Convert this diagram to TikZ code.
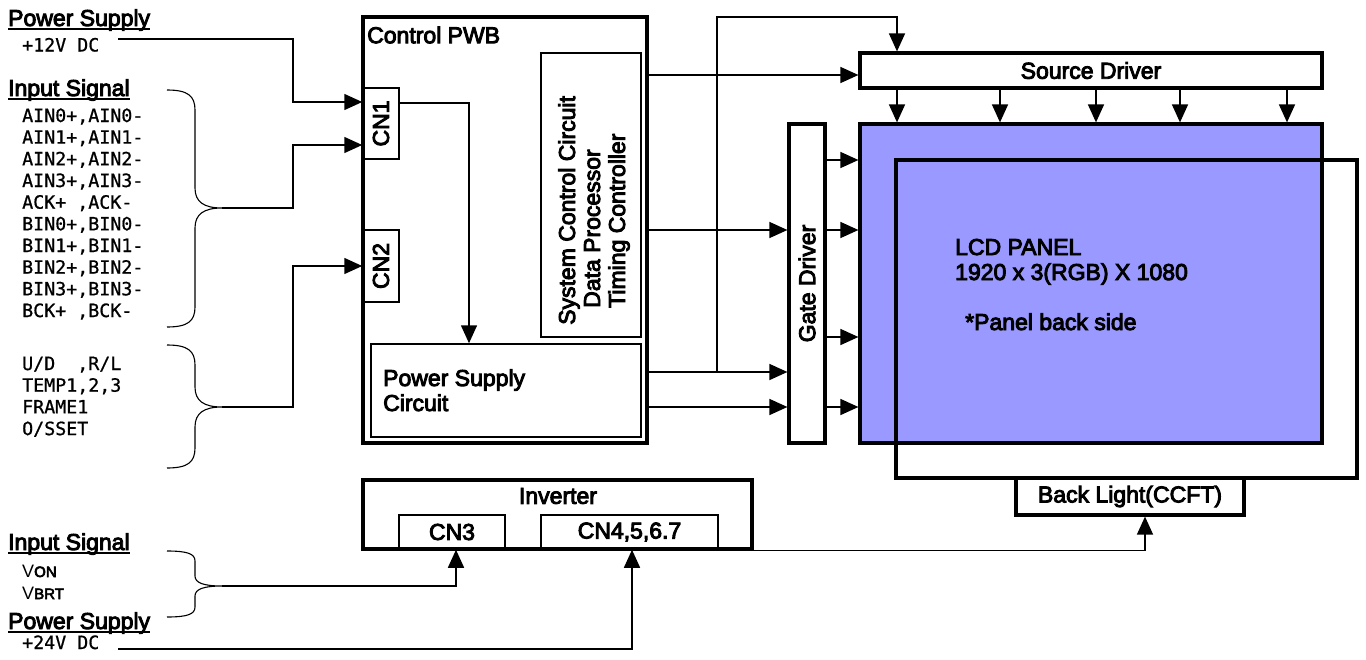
\documentclass[tikz,border=0pt]{standalone}
\usepackage{fontspec}
\setmainfont{Liberation Sans}[BoldFont={Liberation Sans}, BoldFeatures={FakeBold=4}]
\newfontfamily\plainf{Liberation Sans}[BoldFont={Liberation Sans}, BoldFeatures={FakeBold=4}]
\newfontfamily\monof{DejaVu Sans Mono}[BoldFont={DejaVu Sans Mono}, BoldFeatures={FakeBold=0.8}]
\usetikzlibrary{arrows.meta}
\definecolor{lcdfill}{RGB}{153,153,255}
\tikzset{
  thickbox/.style={draw, line width=3.2pt, inner sep=0pt},
  thinbox/.style={draw, line width=1.5pt, inner sep=0pt},
  conn/.style={line width=1.5pt, -{Triangle[length=18pt,width=16pt]}},
  lbl/.style={font=\fontsize{23}{25}\selectfont\bfseries, inner sep=0pt},
  mono/.style={font=\monof\fontsize{18.3}{21}\selectfont\bfseries, inner sep=0pt, anchor=base west},
  bracepath/.style={line width=1.1pt},
  uline/.style={line width=1.7pt},
}
\newcommand\mybrace[4]{%
  \draw[bracepath] (167,#1) .. controls (188,#1) and (195,#1+0.3*#4) .. (195,#1+#4)
    -- (195,#2-#4) .. controls (195,#2-0.3*#4) and (204,#2) .. (222,#2)
    .. controls (204,#2) and (195,#2+0.3*#4) .. (195,#2+#4)
    -- (195,#3-#4) .. controls (195,#3-0.3*#4) and (188,#3) .. (167,#3);}
\begin{document}
\begin{tikzpicture}[x=1pt,y=-1pt]
\useasboundingbox (0,0) rectangle (1366,659);

% ---------- left texts ----------
\node[lbl, anchor=base west] (h1) at (8,26) {Power Supply};
\draw[uline] ([yshift=-3pt]h1.base west) -- ([yshift=-3pt]h1.base east);
\node[mono] (v12t) at (22,51.5) {+12V DC};
\node[lbl, anchor=base west] (h2) at (8,96) {Input Signal};
\draw[uline] ([yshift=-3pt]h2.base west) -- ([yshift=-3pt]h2.base east);
\foreach \t [count=\i] in {{AIN0+,AIN0-},{AIN1+,AIN1-},{AIN2+,AIN2-},{AIN3+,AIN3-},{ACK+ ,ACK-},{BIN0+,BIN0-},{BIN1+,BIN1-},{BIN2+,BIN2-},{BIN3+,BIN3-},{BCK+ ,BCK-}}
  \node[mono] (sa\i) at (22,{122+21.67*(\i-1)}) {\t};
\foreach \t [count=\i] in {{U/D~~,R/L},{TEMP1,2,3},{FRAME1},{O/SSET}}
  \node[mono] (sb\i) at (22,{370+21.7*(\i-1)}) {\t};

\node[lbl, anchor=base west] (h3) at (8,550) {Input Signal};
\draw[uline] ([yshift=-3pt]h3.base west) -- ([yshift=-3pt]h3.base east);
\node[anchor=base west, inner sep=0pt, font=\plainf\fontsize{18}{20}\selectfont] (von) at (22,577) {V{\fontsize{15}{16}\selectfont\bfseries ON}};
\node[anchor=base west, inner sep=0pt, font=\plainf\fontsize{18}{20}\selectfont] (vbrt) at (22,599) {V{\fontsize{15}{16}\selectfont\bfseries BRT}};
\node[lbl, anchor=base west] (h4) at (8,629) {Power Supply};
\draw[uline] ([yshift=-3pt]h4.base west) -- ([yshift=-3pt]h4.base east);
\node[mono] (v24t) at (22,649) {+24V DC};

% braces
\mybrace{90}{208}{327}{20}
\mybrace{345}{407}{468}{20}
\mybrace{551}{586}{617}{10}
\coordinate (tipA) at (222,208);
\coordinate (tipB) at (222,407);
\coordinate (tipC) at (222,586);

% ---------- Control PWB ----------
\node[thickbox, minimum width=284pt, minimum height=426pt] (PWB) at (505,230) {};
\node[lbl, anchor=west] (PWBt) at (367,35) {Control PWB};
\node[thinbox, minimum width=36pt, minimum height=71pt] (CN1) at (381,123.5) {};
\node[lbl, rotate=90] (CN1t) at (CN1.center) {CN1};
\node[thinbox, minimum width=36pt, minimum height=72pt] (CN2) at (381,266) {};
\node[lbl, rotate=90] (CN2t) at (CN2.center) {CN2};
\node[thinbox, minimum width=270pt, minimum height=93pt] (PS) at (506,390.5) {};
\node[lbl, anchor=base west] (PSt1) at (383,386) {Power Supply};
\node[lbl, anchor=base west] (PSt2) at (383,411) {Circuit};
\node[thinbox, minimum width=100pt, minimum height=284pt] (SYS) at (591,195) {};
\node[lbl, rotate=90, anchor=base west] (SYSt1) at (575,325) {System Control Circuit};
\node[lbl, rotate=90, anchor=base west] (SYSt2) at (600,308) {Data Processor};
\node[lbl, rotate=90, anchor=base west] (SYSt3) at (625,308) {Timing Controller};

% ---------- panel side ----------
\node[thickbox, minimum width=462pt, minimum height=35pt] (SD) at (1091,70.5) {};
\node[lbl] (SDt) at (SD.center) {Source Driver};
\node[thickbox, minimum width=36pt, minimum height=319pt] (GD) at (807,283.5) {};
\node[lbl, rotate=90] (GDt) at (GD.center) {Gate Driver};
\node[thickbox, fill=lcdfill, minimum width=462pt, minimum height=319pt] (LCD) at (1091,283.5) {};
\node[thickbox, minimum width=461pt, minimum height=318pt] (BLF) at (1126.5,319) {};
\node[lbl, anchor=base west] (LCDt1) at (955,255) {LCD PANEL};
\node[lbl, anchor=base west] (LCDt2) at (955,280) {1920 x 3(RGB) X 1080};
\node[lbl, anchor=base west] (LCDt3) at (965,330) {*Panel back side};
\node[thickbox, fill=white, minimum width=228pt, minimum height=37pt] (BL) at (1130,496.5) {};
\node[lbl] (BLt) at (BL.center) {Back Light(CCFT)};

% ---------- inverter ----------
\node[thickbox, minimum width=389pt, minimum height=69pt] (INV) at (557.5,514.5) {};
\node[lbl] (INVt) at (558,496) {Inverter};
\node[thinbox, minimum width=106pt, minimum height=34pt] (CN3) at (452,532) {};
\node[lbl] (CN3t) at (CN3.center) {CN3};
\node[thinbox, minimum width=177pt, minimum height=34pt] (CN4) at (629.5,532) {};
\node[lbl] (CN4t) at (CN4.center) {CN4,5,6.7};

% ---------- connectors ----------
\coordinate (v12) at (118,39);
\coordinate (a1) at (293,102);
\draw[conn] (v12) -| (a1) -- (a1 -| CN1.west);
\coordinate (a2) at (293,145);
\draw[conn] (tipA) -| (a2) -- (a2 -| CN1.west);
\coordinate (a3) at (293,266);
\draw[conn] (tipB) -| (a3) -- (a3 -| CN2.west);
\coordinate (a4) at (469,103);
\draw[conn] (a4 -| CN1.east) -- (a4) -- (a4 |- PS.north);

\coordinate (o1) at (0,75);
\draw[conn] (o1 -| PWB.east) -- (o1 -| SD.west);
\coordinate (o2) at (0,230);
\draw[conn] (o2 -| PWB.east) -- (o2 -| GD.west);
\coordinate (o3) at (0,372);
\draw[conn] (o3 -| PWB.east) -- (o3 -| GD.west);
\coordinate (o4) at (0,407);
\draw[conn] (o4 -| PWB.east) -- (o4 -| GD.west);
\coordinate (j) at (717,372);
\coordinate (t) at (897,17);
\draw[conn] (j) |- (t) -- (t |- SD.north);

\foreach \x [count=\i] in {897,1000,1096,1180,1287} {
  \coordinate (sd\i) at (\x,0);
  \draw[conn] (sd\i |- SD.south) -- (sd\i |- LCD.north);
}
\foreach \y [count=\i] in {160,230,337,407} {
  \coordinate (g\i) at (0,\y);
  \draw[conn] (g\i -| GD.east) -- (g\i -| LCD.west);
}

\coordinate (blx) at (1145,0);
\draw[conn] (INV.south east) -| (blx |- BL.south);
\coordinate (c3) at (456,0);
\draw[conn] (tipC) -| (c3 |- CN3.south);
\coordinate (v24) at (118,649);
\coordinate (c4) at (632,0);
\draw[conn] (v24) -| (c4 |- CN4.south);
\end{tikzpicture}
\end{document}
